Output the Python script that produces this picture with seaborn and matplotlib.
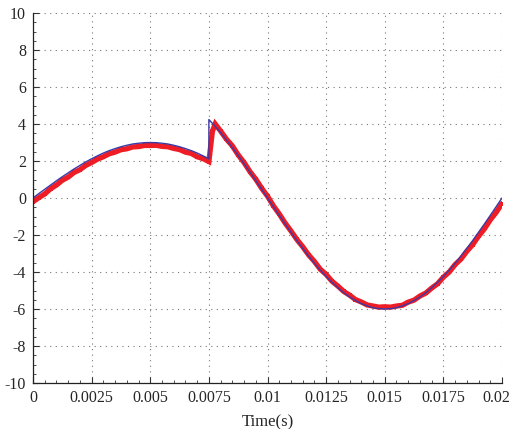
import matplotlib
matplotlib.use("Agg")
import matplotlib.pyplot as plt
import matplotlib.transforms as mtransforms
from matplotlib.ticker import MultipleLocator
import seaborn as sns
import pandas as pd

# reference (blue) values, step at t = 0.0075 s
ref_t = [0.0, 0.00025, 0.0005, 0.00075, 0.001, 0.00125, 0.0015, 0.00175, 0.002, 0.00225,
         0.0025, 0.00275, 0.003, 0.00325, 0.0035, 0.00375, 0.004, 0.00425, 0.0045, 0.00475,
         0.005, 0.00525, 0.0055, 0.00575, 0.006, 0.00625, 0.0065, 0.00675, 0.007, 0.00725,
         0.0075, 0.0075, 0.00775, 0.008, 0.00825, 0.0085, 0.00875, 0.009, 0.00925, 0.0095,
         0.00975, 0.01, 0.01025, 0.0105, 0.01075, 0.011, 0.01125, 0.0115, 0.01175, 0.012,
         0.01225, 0.0125, 0.01275, 0.013, 0.01325, 0.0135, 0.01375, 0.014, 0.01425, 0.0145,
         0.01475, 0.015, 0.01525, 0.0155, 0.01575, 0.016, 0.01625, 0.0165, 0.01675, 0.017,
         0.01725, 0.0175, 0.01775, 0.018, 0.01825, 0.0185, 0.01875, 0.019, 0.01925, 0.0195,
         0.01975, 0.02]
ref_v = [0.0, 0.24, 0.47, 0.70, 0.93, 1.15, 1.36, 1.57, 1.76, 1.95,
         2.12, 2.28, 2.43, 2.56, 2.67, 2.77, 2.85, 2.92, 2.96, 2.99,
         3.0, 2.99, 2.96, 2.92, 2.85, 2.77, 2.67, 2.56, 2.43, 2.28,
         2.12, 4.24, 3.90, 3.53, 3.14, 2.72, 2.30, 1.85, 1.40, 0.94,
         0.47, 0.0, -0.47, -0.94, -1.40, -1.85, -2.30, -2.72, -3.14, -3.53,
         -3.90, -4.24, -4.56, -4.85, -5.12, -5.35, -5.54, -5.71, -5.83, -5.93,
         -5.98, -6.0, -5.98, -5.93, -5.83, -5.71, -5.54, -5.35, -5.12, -4.85,
         -4.56, -4.24, -3.90, -3.53, -3.14, -2.72, -2.30, -1.85, -1.40, -0.94,
         -0.47, 0.0]

meas_t = [0.0, 0.00025, 0.0005, 0.00075, 0.001, 0.00125, 0.0015, 0.00175, 0.002, 0.00225,
          0.0025, 0.00275, 0.003, 0.00325, 0.0035, 0.00375, 0.004, 0.00425, 0.0045, 0.00475,
          0.005, 0.00525, 0.0055, 0.00575, 0.006, 0.00625, 0.0065, 0.00675, 0.007, 0.00725,
          0.0075, 0.00765, 0.00777, 0.008, 0.00825, 0.0085, 0.00875, 0.009, 0.00925, 0.0095,
          0.00975, 0.01, 0.01025, 0.0105, 0.01075, 0.011, 0.01125, 0.0115, 0.01175, 0.012,
          0.01225, 0.0125, 0.01275, 0.013, 0.01325, 0.0135, 0.01375, 0.014, 0.01425, 0.0145,
          0.01475, 0.015, 0.01525, 0.0155, 0.01575, 0.016, 0.01625, 0.0165, 0.01675, 0.017,
          0.01725, 0.0175, 0.01775, 0.018, 0.01825, 0.0185, 0.01875, 0.019, 0.01925, 0.0195,
          0.01975, 0.02]
meas_v = [-0.2, 0.02, 0.22, 0.5, 0.7, 0.96, 1.13, 1.38, 1.53, 1.76,
          1.92, 2.1, 2.23, 2.39, 2.48, 2.61, 2.66, 2.76, 2.78, 2.84,
          2.84, 2.85, 2.79, 2.77, 2.68, 2.62, 2.48, 2.41, 2.23, 2.13,
          1.97, 3.6, 4.0, 3.62, 3.18, 2.82, 2.33, 1.92, 1.43, 1.02,
          0.53, 0.1, -0.42, -0.86, -1.35, -1.78, -2.24, -2.63, -3.07, -3.43,
          -3.85, -4.13, -4.5, -4.76, -5.05, -5.25, -5.49, -5.62, -5.78, -5.84,
          -5.9, -5.88, -5.9, -5.84, -5.8, -5.63, -5.52, -5.3, -5.14, -4.87,
          -4.64, -4.28, -4.0, -3.6, -3.3, -2.88, -2.52, -2.06, -1.67, -1.18,
          -0.78, -0.3]

sns.set_style("white")
plt.rcParams["font.family"] = ["Liberation Serif", "DejaVu Serif"]
plt.rcParams["axes.unicode_minus"] = False
plt.rcParams["xtick.direction"] = "in"
plt.rcParams["ytick.direction"] = "in"

fig = plt.figure(figsize=(5.11, 4.29), dpi=100)
ax = fig.add_axes([33 / 511, 1 - 383 / 429, 469 / 511, 370 / 429])

meas = pd.DataFrame({"t": meas_t, "v": meas_v})
ref = pd.DataFrame({"t": ref_t, "v": ref_v})
sns.lineplot(data=meas, x="t", y="v", ax=ax, color="#ee1c25", linewidth=3.8,
             sort=False, estimator=None, marker="s", markersize=3.5,
             markeredgewidth=0, solid_joinstyle="miter")
sns.lineplot(data=ref, x="t", y="v", ax=ax, color="#3a3aa8", linewidth=1.0,
             sort=False, estimator=None)

ax.set_xlim(0, 0.02)
ax.set_ylim(-10, 10)
ax.set_xticks([0, 0.0025, 0.005, 0.0075, 0.01, 0.0125, 0.015, 0.0175, 0.02])
ax.set_xticklabels(["0", "0.0025", "0.005", "0.0075", "0.01", "0.0125", "0.015", "0.0175", "0.02"])
ax.set_yticks(range(-10, 11, 2))
ax.xaxis.set_minor_locator(MultipleLocator(0.0005))
ax.yaxis.set_minor_locator(MultipleLocator(0.5))
ax.tick_params(which="major", length=4, width=0.8, color="#333333", labelsize=11.5, pad=5)
ax.tick_params(which="minor", length=2, width=0.6, color="#333333", bottom=True, left=True)
ax.tick_params(bottom=True, left=True)
ax.grid(True, which="major", linestyle=(0, (1, 4)), color="#777777", linewidth=0.8)
for s in ["top", "right"]:
    ax.spines[s].set_visible(False)
for s in ["left", "bottom"]:
    ax.spines[s].set_color("#222222")
    ax.spines[s].set_linewidth(0.9)
ax.set_xlabel("Time(s)", fontsize=12, labelpad=6)
ax.set_ylabel("")

# keep the last tick label inside the canvas
last = ax.get_xticklabels()[-1]
last.set_transform(last.get_transform() +
                   mtransforms.ScaledTranslation(-6 / 100, 0, fig.dpi_scale_trans))

fig.savefig("out.png", dpi=100)
